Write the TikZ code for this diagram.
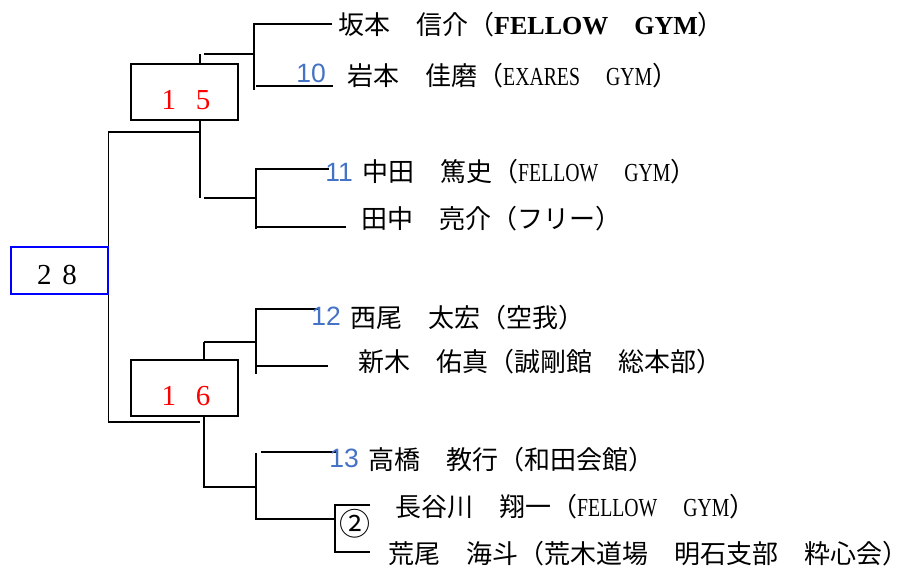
\documentclass[tikz,border=0pt]{standalone}
\usepackage{fontspec}
\setmainfont{Noto Sans CJK JP}
\newfontfamily\latfont[FakeStretch=0.76]{Liberation Serif}
\newfontfamily\boldlat{Liberation Serif}
\newfontfamily\seedfont{Liberation Sans}
\newfontfamily\scorefont{Liberation Serif}
\newcommand\gym[1]{{\latfont #1}}
\newcommand\bgym[1]{{\boldlat\bfseries #1}}
\definecolor{seedblue}{HTML}{4472C4}
\begin{document}
\begin{tikzpicture}[x=1pt,y=-1pt,
  bline/.style={line width=1.4pt},
  entrant/.style={anchor=base west,inner sep=0pt,font=\fontsize{26}{26}\selectfont},
  seednum/.style={anchor=base,inner sep=0pt,text=seedblue,font=\seedfont\fontsize{26.5}{26.5}\selectfont},
  scorebox/.style={draw,line width=1.4pt,minimum width=107pt,minimum height=56pt,inner sep=0pt},
  score/.style={inner sep=0pt,font=\scorefont\fontsize{29}{29}\selectfont}]
\useasboundingbox (0,0) rectangle (909,567);

\node[scorebox,draw=blue,minimum width=97pt,minimum height=47pt] (b28) at (59.5,270.5) {};
\node[scorebox] (b15) at (184.5,92) {};
\node[scorebox] (b16) at (184.5,388) {};
\node[score] (t28) at ([shift={(-2.5,4.5)}]b28.center) {2\hspace{11pt}8};
\node[score,text=red] (t15) at ([shift={(1.5,8)}]b15.center) {1\hspace{20pt}5};
\node[score,text=red] (t16) at ([shift={(1.5,8.5)}]b16.center) {1\hspace{20pt}6};

\coordinate (m1) at (200,132);
\coordinate (m2) at (200,422);
\draw[bline] (m1) -| (b28.north east);
\draw[bline] (m2) -| (b28.south east);

\coordinate (k1) at (200,54);
\coordinate (k2) at (200,198);
\coordinate (k3) at (204,342);
\coordinate (k4) at (204,487);
\coordinate (s1) at (254,90);
\coordinate (s2) at (256,229);
\coordinate (s3) at (256,374);
\coordinate (s4) at (256,519);
\coordinate (e1) at (332,24);
\coordinate (e2) at (333,86);
\coordinate (e3) at (329,169);
\coordinate (e4) at (346,227);
\coordinate (e5) at (320,309);
\coordinate (e6) at (328,366);
\coordinate (e7) at (338,452);
\coordinate (e8) at (370,505);
\coordinate (e9) at (370,552);
\coordinate (c2) at (335,519);

\draw[bline] (k1) -- (k1 |- b15.north);
\draw[bline] ([xshift=4pt]k1) -- (k1 -| s1);
\draw[bline] (e1) -| (s1);
\draw[bline] (e2) -- ([xshift=2pt]e2 -| s1);

\draw[bline] (b15.south -| k2) -- (k2);
\draw[bline] ([xshift=4pt]k2) -- (k2 -| s2);
\draw[bline] (e3) -| (s2);
\draw[bline] (e4) -- (e4 -| s2);

\draw[bline] (k3) -- (k3 |- b16.north);
\draw[bline] (k3) -- (k3 -| s3);
\draw[bline] (e5) -| (s3);
\draw[bline] (e6) -- (e6 -| s3);

\draw[bline] (b16.south -| k4) -- (k4) -- (k4 -| s4);
\draw[bline] (s4 |- 0,453) -- (s4) -- (c2);
\draw[bline] (e7) -- ([xshift=5pt]e7 -| s4);
\draw[bline] (e8) -| (e9 -| c2) -- (e9);

\node[entrant] (p1) at (338,35) {坂本　信介（\bgym{FELLOW}　\bgym{GYM}）};
\node[entrant] (p2) at (347,86) {岩本　佳磨（\gym{EXARES}　\gym{GYM}）};
\node[entrant] (p3) at (362,181) {中田　篤史（\gym{FELLOW}　\gym{GYM}）};
\node[entrant] (p4) at (361,228) {田中　亮介（フリー）};
\node[entrant] (p5) at (350,327) {西尾　太宏（空我）};
\node[entrant] (p6) at (358,371) {新木　佑真（誠剛館　総本部）};
\node[entrant] (p7) at (368,469) {高橋　教行（和田会館）};
\node[entrant] (p8) at (395,516) {長谷川　翔一（\gym{FELLOW}　\gym{GYM}）};
\node[entrant] (p9) at (388,563) {荒尾　海斗（荒木道場　明石支部　粋心会）};

\node[seednum] (n10) at (311,83) {10};
\node[seednum] (n11) at (339,181) {11};
\node[seednum] (n12) at (326,325) {12};
\node[seednum] (n13) at (344,467) {13};
\node[inner sep=0pt,font=\fontsize{31}{31}\selectfont] (w2) at (355,524) {②};
\end{tikzpicture}
\end{document}
